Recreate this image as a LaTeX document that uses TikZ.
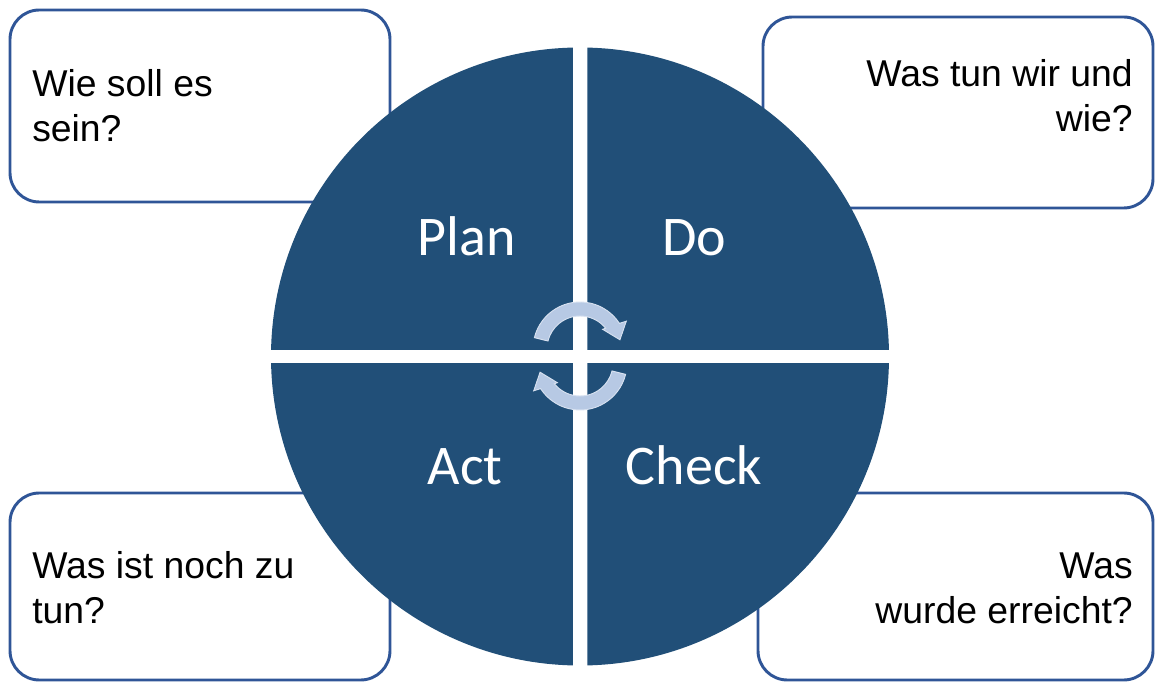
\documentclass[tikz,border=0pt]{standalone}
\usepackage{fontspec}
\setmainfont{Liberation Sans}
\newfontfamily\labelfont{Carlito}
\usetikzlibrary{calc}
\definecolor{quadblue}{RGB}{33,79,120}
\definecolor{boxline}{RGB}{47,85,151}
\definecolor{arrowfill}{RGB}{183,201,228}
\tikzset{
  qbox/.style={draw=boxline, line width=2.2pt, rounded corners=22pt, fill=white, inner sep=0pt},
  qtext/.style={inner sep=0pt, text=black, font=\fontsize{28pt}{33.75pt}\selectfont},
  plabel/.style={inner sep=0pt, text=white, font=\labelfont\fontsize{42pt}{50pt}\selectfont, anchor=base},
  cyclearrow/.style={fill=arrowfill, draw=arrowfill!55!white, line width=0.7pt},
}
\begin{document}
\begin{tikzpicture}[x=0.75pt, y=0.75pt]
\useasboundingbox (0,0) rectangle (1156,682);
% boxes
\node[qbox, minimum width=285pt, minimum height=144pt] (tl) at (200,576) {};
\node[qbox, minimum width=292.5pt, minimum height=143.25pt] (tr) at (958,569.5) {};
\node[qbox, minimum width=285pt, minimum height=140.25pt] (bl) at (200,95.5) {};
\node[qbox, minimum width=296.25pt, minimum height=140.25pt] (br) at (955.5,95.5) {};
% box texts (anchor at the baseline of the last line)
\node[qtext, anchor=base west, align=left] (tltext) at (32,540) {Wie soll es\\sein?};
\node[qtext, anchor=base east, align=right] (trtext) at (1133,550) {Was tun wir und\\wie?};
\node[qtext, anchor=base west, align=left] (bltext) at (32,59) {Was ist noch zu\\tun?};
\node[qtext, anchor=base east, align=right] (brtext) at (1133,59) {Was\\wurde erreicht?};
% circle quadrants
\coordinate (c) at (580,325.5);
\def\R{309}
\def\g{7.25}
\begin{scope}
  \clip (0,325.5+\g) rectangle (580-\g,682);
  \fill[quadblue] (c) circle[radius=\R];
\end{scope}
\begin{scope}
  \clip (580+\g,325.5+\g) rectangle (1156,682);
  \fill[quadblue] (c) circle[radius=\R];
\end{scope}
\begin{scope}
  \clip (0,0) rectangle (580-\g,325.5-\g);
  \fill[quadblue] (c) circle[radius=\R];
\end{scope}
\begin{scope}
  \clip (580+\g,0) rectangle (1156,325.5-\g);
  \fill[quadblue] (c) circle[radius=\R];
\end{scope}
% labels
\node[plabel] (plan) at (466.5,426) {Plan};
\node[plabel] (do) at (694,426) {Do};
\node[plabel] (act) at (465,197) {Act};
\node[plabel] (check) at (694,197) {Check};
% cycle arrows
\coordinate (au) at (580,333);
\coordinate (al) at (580,319);
\fill[cyclearrow] ($(au)+(166:47)$) arc[start angle=166, end angle=33, radius=47]
  -- ($(au)+(31:54)$) -- ($(au)+(13:41)$) -- ($(au)+(41:30)$) -- ($(au)+(39:33)$)
  arc[start angle=39, end angle=166, radius=33] -- cycle;
\fill[cyclearrow] ($(al)+(346:47)$) arc[start angle=346, end angle=213, radius=47]
  -- ($(al)+(211:54)$) -- ($(al)+(193:41)$) -- ($(al)+(221:30)$) -- ($(al)+(219:33)$)
  arc[start angle=219, end angle=346, radius=33] -- cycle;
\end{tikzpicture}
\end{document}
